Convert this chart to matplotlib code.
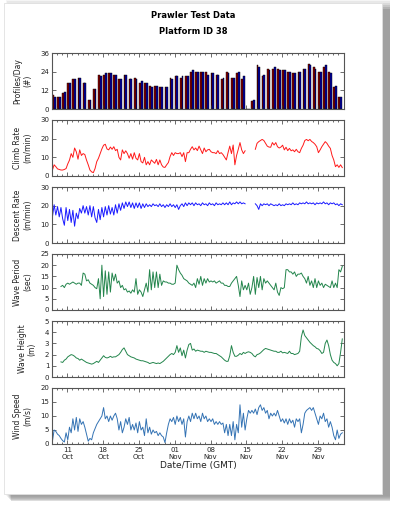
import numpy as np
import pandas as pd
import matplotlib
matplotlib.use('Agg')
import matplotlib.pyplot as plt
import matplotlib.dates as mdates
from matplotlib.patches import Rectangle

# daily profile counts (two bars per day)
days = pd.date_range('2013-10-08', '2013-12-03', freq='D')
profiles_a = [9, 8, 10, 17, 19, 20, 17, 6, 13, 22, 22, 23, 22, 19, 22, 19, 20, 17, 17, 15,
              15, 14, 14, 20, 21, 20, 21, 24, 24, 24, 24, 23, 22, 19, 24, 20, 23, 19, 0, 5,
              28, 21, 26, 26, 26, 25, 24, 23, 24, 26, 29, 27, 24, 27, 24, 14, 8]
profiles_b = [8, 8, 11, 17, 19, 20, 17, 6, 13, 21, 23, 23, 22, 19, 22, 19, 19, 18, 17, 14,
              15, 14, 14, 19, 21, 21, 21, 25, 24, 24, 22, 23, 22, 20, 23, 20, 24, 21, 0, 6,
              27, 22, 25, 27, 25, 25, 24, 23, 24, 26, 28, 26, 24, 28, 23, 15, 8]

# 8-hourly series
times = pd.date_range('2013-10-08 02:00', periods=171, freq='8h')
nan = np.nan

climb = [3.2, 6, 5, 3.8, 3.5, 3.2, 3.2, 3.5, 4, 6.5, 8.5, 12, 10, 15, 13, 9, 14, 11, 12, 11.5,
         8.5, 6, 3.2, 2.2, 1.8, 4, 7.7, 9.5, 12, 14.5, 16.5, 17, 14.5, 14, 15.5, 14.3, 15.7, 13.6, 14.3, 10,
         8.6, 14, 12, 13.5, 12, 9.5, 12, 9, 12.5, 9.5, 8.6, 12, 7.7, 7, 10, 6, 7.7, 6, 8.6, 7.7,
         6.8, 8.9, 6, 8.6, 6, 4.8, 4.6, 6, 7.2, 10.4, 12.5, 11, 12.5, 12, 12, 12.5, 10.4, 12.5, 7.7, 12.5,
         12.5, 14.3, 15.7, 14, 15, 13.6, 16, 14, 12, 15, 13, 14, 14.3, 13, 12.5, 12.5, 12, 13.6, 12, 12.5,
         11.5, 10, 8.6, 12.5, 16, 12, 16.6, 6, 11, 14.3, 17.9, 14, 12, 13.5, nan, nan, nan, nan, nan, 14.3,
         17.5, 18.4, 19, 19.6, 19, 17.5, 16, 15.5, 15.4, 17.9, 16.6, 17.9, 15.7, 15, 15.5, 16.5, 14, 15.4, 13.6, 14.8,
         13.5, 14, 13, 14.3, 13, 12.5, 14.8, 16.5, 19, 19.6, 18.9, 19.6, 18.5, 17.9, 17, 15.7, 12.5, 14, 15.7, 17,
         18.4, 17.5, 16, 14.8, 11, 8.6, 5, 6, 4.6, 6, 4.5]

descent = [14, 20.5, 15, 19.5, 14, 19, 13, 9.5, 19, 12, 18, 11, 17.5, 9, 16, 13, 18.5, 16, 20, 16,
           19.5, 15, 20, 14, 19.5, 13.5, 11, 18, 12.5, 19, 14, 19.5, 15, 20, 15.5, 19, 15, 20.5, 16, 21,
           17.5, 21.5, 18.5, 22, 19.5, 22, 19, 21.5, 18.5, 21.5, 19, 21.5, 18.5, 21, 19, 21, 19.5, 20.5, 19.5, 21,
           20, 20.5, 19.5, 21, 19.5, 20.5, 19, 20.5, 19.5, 21, 19.5, 20.5, 19, 20.5, 18, 20, 21, 19.5, 21.5, 20,
           21.5, 20.5, 21.5, 20, 21.5, 20.5, 21, 20, 21.5, 20.5, 21, 20, 21.5, 20.5, 21, 20, 21.5, 20.5, 21, 20.5,
           21.5, 20.5, 21.5, 20.5, 22, 20.5, 21.5, 21, 22, 21, 22, 21, 21.5, 21, nan, nan, nan, nan, nan, 21,
           20, 18, 21, 20, 21, 20.5, 21, 20, 21, 20.5, 20, 20.5, 20, 21, 20, 20.5, 20, 21, 20.5, 21,
           20.5, 21.5, 20.5, 21, 20.5, 21.5, 21, 21.5, 21, 22, 21, 21.5, 21, 21.5, 20.5, 21.5, 21, 21.5, 21, 22,
           21, 21.5, 20.5, 21.5, 21, 21.5, 20.5, 21, 20, 21, 20.5]

wave_period = [nan, nan, nan, nan, nan, 10.5, 11, 10, 11.5, 12, 11.5, 12, 12.5, 12, 11.5, 12, 12, 11, 16.5, 16,
               13, 13.5, 12, 11.5, 11, 10, 9.5, 14, 5, 20, 6, 17.5, 7, 17, 8, 16.5, 13, 16, 12, 13,
               10, 11, 9, 9.5, 8, 8.5, 7.5, 9, 8, 14, 7, 9, 8, 6, 9, 12, 8, 18, 9, 17,
               10, 17, 10, 16, 11, 13, 12.5, 12.5, 12, 12, 11.5, 11.5, 12, 20, 18, 16.5, 15.5, 14, 13.5, 13,
               12, 11.5, 11, 12, 10, 14, 11.5, 15, 11, 14, 12, 14, 12.5, 13, 12.5, 13, 12, 12.5, 13, 12,
               12, 11, 11, 10.5, 10.5, 12, 13, 14, 15, 11, 6, 13, 9, 11, 9, 12, 7, 10, 15, 7,
               14.5, 10, 15, 9, 14, 12, 13, 12, 11, 10, 9, 12, 8, 6.5, 10, 9.5, 10, 18, 18, 17,
               17, 16, 17, 15, 16, 16, 16.5, 15, 14, 12, 15, 11, 13, 10, 14, 10, 13, 11, 12, 10,
               11.5, 11, 10.5, 10, 13, 10, 12, 10, 18, 17, 19.5]

wave_height = [nan, nan, nan, nan, nan, 1.35, 1.3, 1.5, 1.6, 1.8, 1.9, 2.0, 1.95, 1.85, 1.7, 1.65, 1.5, 1.6, 1.5, 1.4,
               1.3, 1.25, 1.2, 1.15, 1.2, 1.3, 1.4, 1.3, 1.5, 1.7, 1.9, 1.75, 1.7, 1.75, 1.85, 1.75, 1.8, 1.8, 1.9, 2.0,
               2.2, 2.45, 2.6, 2.3, 2.0, 1.9, 1.8, 1.75, 1.7, 1.6, 1.55, 1.5, 1.45, 1.45, 1.4, 1.35, 1.3, 1.2, 1.25, 1.3,
               1.25, 1.2, 1.25, 1.2, 1.3, 1.4, 1.55, 1.7, 1.85, 2.0, 2.1, 2.0, 2.2, 2.8, 2.2, 2.6, 1.9, 2.4, 1.7, 2.4,
               2.9, 3.0, 2.4, 2.5, 2.3, 2.4, 2.35, 2.3, 2.3, 2.2, 2.3, 2.25, 2.2, 2.2, 2.15, 2.1, 2.1, 2.0, 1.9, 1.8,
               1.65, 1.5, 1.4, 1.4, 1.9, 2.8, 2.2, 1.85, 1.85, 1.95, 2.1, 2.0, 2.2, 2.1, 2.2, 2.25, 2.2, 2.1, 1.9, 1.8,
               2.0, 2.05, 2.15, 2.3, 2.45, 2.55, 2.5, 2.45, 2.4, 2.35, 2.3, 2.3, 2.2, 2.2, 2.3, 2.15, 2.2, 2.15, 2.1, 2.3,
               2.1, 2.1, 2.0, 2.05, 2.1, 2.3, 3.6, 4.2, 3.7, 3.5, 3.3, 3.1, 2.95, 2.8, 2.7, 2.55, 2.5, 2.35, 2.1, 2.2,
               3.0, 3.3, 2.8, 2.0, 1.5, 1.3, 1.2, 1.0, 1.2, 2.2, 3.4]

wind = [1, 5, 4.5, 3.5, 3, 2, 1.2, 0.7, 4, 1.5, 6, 4, 9, 5, 9.5, 4.5, 9, 7, 8, 6,
        3.5, 1, 2, 1.5, 4, 5.5, 7, 8, 9, 10, 13, 9, 10, 8, 10, 8.5, 10, 11, 9, 5,
        8, 4, 6, 9, 7, 9.5, 5, 7, 5, 7.5, 4, 8, 5, 6, 3, 9, 4, 6, 3.5, 5,
        4, 4.5, 3, 4, 3, 2.5, 0.5, 4, 7, 9, 8, 9.5, 7, 10, 8, 9.5, 7, 9, 2.5, 8,
        10, 8, 11, 9, 11, 9, 10, 8, 11, 9, 10, 8, 9, 8, 9, 7, 8, 7, 8, 7,
        7.5, 4, 7, 3, 7, 3, 8, 1.5, 7, 4, 14, 6, 11, 5, 9, 12, 11, 12, 11, 12.5,
        10.5, 13, 14, 12, 13, 11, 12, 9, 11, 10, 11, 10, 12, 10, 8, 9, 7.5, 9, 7, 9,
        7.5, 8.5, 6, 9, 8, 9, 4, 7, 11, 12, 12.5, 13, 12, 13, 11, 9, 7, 10, 9, 11,
        8, 9, 6, 8, 6, 3, 1.5, 5, 2, 3.5, 4]

tick_dates = pd.to_datetime(['2013-10-11', '2013-10-18', '2013-10-25', '2013-11-01',
                             '2013-11-08', '2013-11-15', '2013-11-22', '2013-11-29'])

panels = [
    ('Profiles/Day\n(#)', (0, 36), [0, 12, 24, 36]),
    ('Climb Rate\n(m/min)', (0, 30), [0, 10, 20, 30]),
    ('Descent Rate\n(m/min)', (0, 30), [0, 10, 20, 30]),
    ('Wave Period\n(sec)', (0, 25), [0, 5, 10, 15, 20, 25]),
    ('Wave Height\n(m)', (0, 5), [0, 1, 2, 3, 4, 5]),
    ('Wind Speed\n(m/s)', (0, 20), [0, 5, 10, 15, 20]),
]
series = [None, (climb, '#ff1a1a'), (descent, '#1a1aff'), (wave_period, '#23854c'),
          (wave_height, '#23854c'), (wind, '#3473b4')]

W, H = 395, 507
fig = plt.figure(figsize=(W / 100, H / 100), dpi=100)
fig.patch.set_facecolor('white')

# card with soft drop shadow
for i, a in enumerate([0.06, 0.08, 0.10, 0.13, 0.16, 0.2]):
    s = 6 - i
    fig.patches.append(Rectangle(((4 + 2 + i) / W, (H - 494 - 2 - i) / H), (378 + s) / W, (491 + s) / H,
                                 transform=fig.transFigure, facecolor='#555555', alpha=a,
                                 edgecolor='none', zorder=0))
fig.patches.append(Rectangle((4 / W, (H - 494) / H), 378 / W, 491 / H, transform=fig.transFigure,
                             facecolor='white', edgecolor='#e0e0e0', lw=0.6, zorder=1))

fig.text(193 / W, 1 - 16 / H, 'Prawler Test Data', ha='center', va='center', fontsize=6, fontweight='bold')
fig.text(193 / W, 1 - 32 / H, 'Platform ID 38', ha='center', va='center', fontsize=6, fontweight='bold')

xmin = pd.Timestamp('2013-10-08 00:00')
xmax = pd.Timestamp('2013-12-04 02:00')
tops = [53, 120, 187, 254, 321, 388]
ax_h = 56
for i, (label, ylim, yt) in enumerate(panels):
    ax = fig.add_axes([52 / W, (H - tops[i] - ax_h) / H, 292 / W, ax_h / H], zorder=2)
    if i == 0:
        ax.bar(days, profiles_a, width=0.36, align='edge', color='#8b0000', edgecolor='black', lw=0.3)
        ax.bar(days + pd.Timedelta(hours=8), profiles_b, width=0.36, align='edge',
               color='#0000a0', edgecolor='black', lw=0.3)
    else:
        vals, c = series[i]
        ax.plot(times, vals, color=c, lw=0.7)
    ax.set_xlim(xmin, xmax)
    ax.set_ylim(*ylim)
    ax.set_yticks(yt)
    ax.set_xticks(tick_dates)
    ax.xaxis.set_minor_locator(mdates.DayLocator())
    ax.tick_params(which='both', direction='in', top=True, right=True, labelsize=5, pad=2,
                   colors='#333333', labelcolor='#222222')
    ax.tick_params(which='major', length=3, width=0.5)
    ax.tick_params(which='minor', length=1.5, width=0.5)
    for sp in ax.spines.values():
        sp.set_color('#555555')
        sp.set_linewidth(0.8)
    ax.set_ylabel(label, fontsize=5.5, labelpad=6, linespacing=1.1, color='#222222')
    if i == len(panels) - 1:
        ax.xaxis.set_major_formatter(mdates.DateFormatter('%d\n%b'))
        ax.set_xlabel('Date/Time (GMT)', fontsize=6.5, labelpad=1, color='#222222')
    else:
        ax.set_xticklabels([])

fig.savefig('out.png', dpi=100)
